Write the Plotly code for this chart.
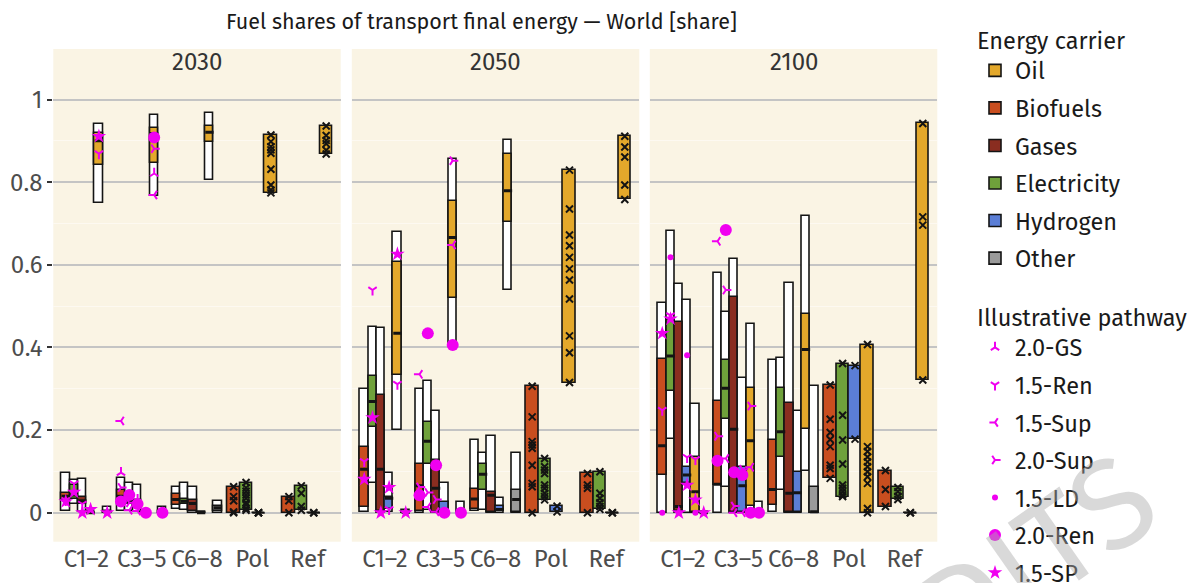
import plotly.graph_objects as go

# ---------------- data ----------------
YEARS = ["2030", "2050", "2100"]
GROUPS = ["C1–2", "C3–5", "C6–8", "Pol", "Ref"]
CARRIERS = ["Biofuels", "Electricity", "Gases", "Hydrogen", "Oil", "Other"]
POLREF_CARRIERS = ["Biofuels", "Electricity", "Hydrogen", "Oil"]
LEGEND_ORDER = ["Oil", "Biofuels", "Gases", "Electricity", "Hydrogen", "Other"]
PATHWAYS = ["2.0-GS", "1.5-Ren", "1.5-Sup", "2.0-Sup", "1.5-LD", "2.0-Ren", "1.5-SP"]
PATHWAY_GROUP = ["C3–5", "C1–2", "C3–5", "C3–5", "C1–2", "C3–5", "C1–2"]
Y_TICKS = [0, 0.2, 0.4, 0.6, 0.8, 1.0]
Y_TICK_LABELS = ["0", "0.2", "0.4", "0.6", "0.8", "1"]

# box statistics; rows = C1–2, C3–5, C6–8 ; columns follow CARRIERS
LO_2030 = [[0.004, 0.022, 0.002, 0.0, 0.750, 0.0],
           [0.003, 0.004, 0.002, 0.0, 0.766, 0.0],
           [0.008, 0.006, 0.000, 0.0, 0.806, 0.0]]
Q1_2030 = [[0.030, 0.032, 0.021, 0.0, 0.841, 0.0],
           [0.030, 0.020, 0.012, 0.0, 0.847, 0.0],
           [0.018, 0.020, 0.004, 0.0, 0.898, 0.004]]
MED_2030 = [[0.040, 0.043, 0.029, 0.0, 0.900, 0.002],
            [0.040, 0.027, 0.020, 0.0, 0.918, 0.002],
            [0.032, 0.028, 0.022, 0.0, 0.921, 0.012]]
Q3_2030 = [[0.047, 0.068, 0.037, 0.001, 0.920, 0.003],
           [0.055, 0.030, 0.030, 0.001, 0.931, 0.003],
           [0.045, 0.032, 0.031, 0.001, 0.936, 0.017]]
HI_2030 = [[0.095, 0.078, 0.082, 0.003, 0.940, 0.015],
           [0.085, 0.073, 0.066, 0.002, 0.962, 0.015],
           [0.061, 0.071, 0.061, 0.002, 0.968, 0.028]]

LO_2050 = [[0.002, 0.071, 0.000, 0.002, 0.200, 0.0],
           [0.000, 0.006, 0.000, 0.000, 0.406, 0.0],
           [0.003, 0.006, 0.000, 0.000, 0.540, 0.0]]
Q1_2050 = [[0.013, 0.208, 0.003, 0.010, 0.333, 0.0],
           [0.003, 0.119, 0.002, 0.000, 0.519, 0.0],
           [0.008, 0.055, 0.001, 0.003, 0.704, 0.002]]
MED_2050 = [[0.105, 0.269, 0.105, 0.035, 0.434, 0.001],
            [0.065, 0.173, 0.059, 0.003, 0.666, 0.001],
            [0.033, 0.093, 0.042, 0.008, 0.779, 0.032]]
Q3_2050 = [[0.160, 0.331, 0.285, 0.037, 0.607, 0.002],
           [0.119, 0.220, 0.127, 0.027, 0.755, 0.002],
           [0.058, 0.119, 0.050, 0.016, 0.868, 0.055]]
HI_2050 = [[0.299, 0.450, 0.446, 0.097, 0.680, 0.006],
           [0.299, 0.318, 0.247, 0.073, 0.857, 0.027],
           [0.177, 0.145, 0.185, 0.035, 0.903, 0.145]]

LO_2100 = [[0.000, 0.178, 0.000, 0.000, 0.000, 0.0],
           [0.000, 0.061, 0.000, 0.000, 0.002, 0.0],
           [0.002, 0.055, 0.000, 0.000, 0.101, 0.0]]
Q1_2100 = [[0.091, 0.295, 0.005, 0.071, 0.002, 0.0],
           [0.067, 0.226, 0.002, 0.002, 0.016, 0.0],
           [0.019, 0.135, 0.002, 0.002, 0.202, 0.0]]
MED_2100 = [[0.162, 0.379, 0.015, 0.091, 0.051, 0.0],
            [0.069, 0.301, 0.202, 0.065, 0.174, 0.001],
            [0.056, 0.196, 0.047, 0.048, 0.395, 0.002]]
Q3_2100 = [[0.373, 0.466, 0.462, 0.110, 0.135, 0.001],
           [0.271, 0.369, 0.521, 0.111, 0.303, 0.002],
           [0.177, 0.303, 0.266, 0.098, 0.482, 0.061]]
HI_2100 = [[0.508, 0.682, 0.553, 0.515, 0.263, 0.002],
           [0.581, 0.486, 0.613, 0.327, 0.456, 0.027],
           [0.369, 0.375, 0.555, 0.246, 0.718, 0.306]]

# individual scenarios, Pol / Ref ; keys follow POLREF_CARRIERS
POL_2030 = {"Biofuels": [0.063, 0.039, 0.029, 0.002, 0.0],
            "Electricity": [0.073, 0.060, 0.052, 0.043, 0.035, 0.024, 0.019, 0.010, 0.006],
            "Hydrogen": [0.0, 0.0, 0.0],
            "Oil": [0.914, 0.898, 0.886, 0.878, 0.870, 0.831, 0.793, 0.781, 0.774]}
REF_2030 = {"Biofuels": [0.039, 0.029, 0.0],
            "Electricity": [0.065, 0.047, 0.015, 0.006],
            "Hydrogen": [0.0, 0.0],
            "Oil": [0.936, 0.913, 0.901, 0.893, 0.877, 0.868]}
POL_2050 = {"Biofuels": [0.306, 0.232, 0.172, 0.164, 0.156, 0.115, 0.071, 0.063, 0.0],
            "Electricity": [0.131, 0.111, 0.103, 0.095, 0.067, 0.059, 0.047, 0.039, 0.031],
            "Hydrogen": [0.016, 0.002],
            "Oil": [0.829, 0.735, 0.672, 0.646, 0.618, 0.590, 0.563, 0.517, 0.428, 0.387, 0.315]}
REF_2050 = {"Biofuels": [0.095, 0.067, 0.059, 0.0],
            "Electricity": [0.099, 0.047, 0.035, 0.024, 0.015, 0.008],
            "Hydrogen": [0.0, 0.0],
            "Oil": [0.911, 0.885, 0.861, 0.793, 0.758]}
POL_2100 = {"Biofuels": [0.309, 0.226, 0.194, 0.177, 0.160, 0.115, 0.107, 0.083],
            "Electricity": [0.361, 0.236, 0.176, 0.118, 0.067, 0.059, 0.051, 0.043, 0.039],
            "Hydrogen": [0.356, 0.178],
            "Oil": [0.407, 0.160, 0.148, 0.135, 0.123, 0.111, 0.099, 0.087, 0.071, 0.010, 0.0]}
REF_2100 = {"Biofuels": [0.102, 0.056, 0.015],
            "Electricity": [0.061, 0.051, 0.040, 0.032],
            "Hydrogen": [0.0, 0.0],
            "Oil": [0.942, 0.716, 0.696, 0.321]}

# illustrative pathways; values follow CARRIERS (None = not shown)
IP_2030 = {"2.0-GS": [0.097, None, 0.032, None, 0.821, None],
           "1.5-Ren": [0.030, 0.070, 0.021, None, 0.869, None],
           "1.5-Sup": [0.222, 0.006, 0.004, None, 0.769, None],
           "2.0-Sup": [0.061, 0.024, None, None, 0.881, None],
           "1.5-LD": [None, None, None, None, None, None],
           "2.0-Ren": [0.027, 0.043, 0.021, 0.0, 0.908, 0.0],
           "1.5-SP": [0.027, 0.050, 0.0, 0.008, 0.911, 0.0]}
IP_2050 = {"2.0-GS": [None, None, None, None, None, None],
           "1.5-Ren": [0.124, 0.539, None, 0.008, 0.311, None],
           "1.5-Sup": [0.335, 0.014, 0.002, None, 0.648, None],
           "2.0-Sup": [0.062, 0.049, 0.032, None, 0.852, None],
           "1.5-LD": [None, None, None, None, None, None],
           "2.0-Ren": [0.042, 0.434, 0.115, 0.0, 0.406, 0.0],
           "1.5-SP": [0.081, 0.230, 0.0, 0.061, 0.626, 0.0]}
IP_2100 = {"2.0-GS": [None, None, None, None, None, None],
           "1.5-Ren": [0.248, 0.477, None, 0.134, 0.129, None],
           "1.5-Sup": [0.657, 0.131, 0.0, 0.0, 0.110, None],
           "2.0-Sup": [0.185, 0.539, 0.016, 0.105, 0.258, None],
           "1.5-LD": [0.0, 0.618, None, 0.381, 0.0, None],
           "2.0-Ren": [0.126, 0.684, 0.098, 0.091, 0.0, 0.0],
           "1.5-SP": [0.434, 0.469, 0.0, 0.067, 0.031, 0.0]}

BOX = {"2030": (LO_2030, Q1_2030, MED_2030, Q3_2030, HI_2030),
       "2050": (LO_2050, Q1_2050, MED_2050, Q3_2050, HI_2050),
       "2100": (LO_2100, Q1_2100, MED_2100, Q3_2100, HI_2100)}
POL = {"2030": POL_2030, "2050": POL_2050, "2100": POL_2100}
REF = {"2030": REF_2030, "2050": REF_2050, "2100": REF_2100}
IP = {"2030": IP_2030, "2050": IP_2050, "2100": IP_2100}

# ---------------- style ----------------
W, H = 1191, 583
FONT = "Fira Sans, Noto Sans, sans-serif"
COLORS = {"Oil": "#E3A82B", "Biofuels": "#C94E1F", "Gases": "#8A2D20",
          "Electricity": "#6FA13B", "Hydrogen": "#5B7ED6", "Other": "#9A9A9A"}
EDGE = "#141414"
MAG = "#F000F0"
PANEL_BG = "#FAF4E4"
IP_STYLE = {"2.0-GS": ("y-up", 7), "1.5-Ren": ("y-down", 7), "1.5-Sup": ("y-left", 7),
            "2.0-Sup": ("y-right", 7), "1.5-LD": ("circle", 6), "2.0-Ren": ("circle", 12),
            "1.5-SP": ("star", 11)}
DODGE6 = [-0.375, -0.225, -0.075, 0.075, 0.225, 0.375]
DODGE4 = [-0.3375, -0.1125, 0.1125, 0.3375]
BW6, BW4 = 0.15, 0.225

PANEL_X = [(53.3, 340.7), (351.8, 639.3), (649.8, 937.3)]
PANEL_TOP, PANEL_BOTTOM, STRIP_TOP = 80.0, 541.7, 49.0
ZERO_PX, ONE_PX = 512.7, 99.5
scale = ZERO_PX - ONE_PX
Y_RANGE = [-(PANEL_BOTTOM - ZERO_PX) / scale, (ZERO_PX - PANEL_TOP) / scale]

fig = go.Figure()
shown = set()

for yi, year in enumerate(YEARS):
    xa = "x" if yi == 0 else f"x{yi + 1}"
    ya = "y" if yi == 0 else f"y{yi + 1}"
    lo, q1, med, q3, hi = BOX[year]
    # outer (white) boxes
    xs, bs, hs = [], [], []
    for g in range(3):
        for c in range(6):
            xs.append(g + 1 + DODGE6[c])
            bs.append(lo[g][c])
            hs.append(hi[g][c] - lo[g][c])
    fig.add_trace(go.Bar(x=xs, y=hs, base=bs, width=BW6, xaxis=xa, yaxis=ya,
                         marker=dict(color="white", line=dict(color=EDGE, width=1.6)),
                         showlegend=False, hoverinfo="skip"))
    # coloured boxes per carrier (+ Pol / Ref ranges)
    for c, name in enumerate(CARRIERS):
        xs = [g + 1 + DODGE6[c] for g in range(3)]
        bs = [q1[g][c] for g in range(3)]
        hs = [q3[g][c] - q1[g][c] for g in range(3)]
        if name in POLREF_CARRIERS:
            k = POLREF_CARRIERS.index(name)
            for gpos, src in ((4, POL[year]), (5, REF[year])):
                vals = src[name]
                xs.append(gpos + DODGE4[k])
                bs.append(min(vals))
                hs.append(max(vals) - min(vals))
        widths = [BW6] * 3 + [BW4] * (len(xs) - 3)
        fig.add_trace(go.Bar(x=xs, y=hs, base=bs, width=widths, xaxis=xa, yaxis=ya,
                             name=name, legendgroup=name, legend="legend",
                             legendrank=LEGEND_ORDER.index(name) + 1,
                             showlegend=(yi == 0),
                             marker=dict(color=COLORS[name], line=dict(color=EDGE, width=1.6)),
                             hoverinfo="skip"))
    # medians (and flat Pol/Ref ranges)
    mx, my = [], []
    for g in range(3):
        for c in range(6):
            x0 = g + 1 + DODGE6[c]
            mx += [x0 - BW6 / 2, x0 + BW6 / 2, None]
            my += [med[g][c], med[g][c], None]
    fig.add_trace(go.Scatter(x=mx, y=my, mode="lines", xaxis=xa, yaxis=ya,
                             line=dict(color=EDGE, width=3), showlegend=False, hoverinfo="skip"))
    fx, fy = [], []
    for gpos, src in ((4, POL[year]), (5, REF[year])):
        for k, name in enumerate(POLREF_CARRIERS):
            vals = src[name]
            if max(vals) == min(vals):
                x0 = gpos + DODGE4[k]
                fx += [x0 - BW4 / 2, x0 + BW4 / 2, None]
                fy += [vals[0], vals[0], None]
    if fx:
        fig.add_trace(go.Scatter(x=fx, y=fy, mode="lines", xaxis=xa, yaxis=ya,
                                 line=dict(color=EDGE, width=2), showlegend=False,
                                 hoverinfo="skip"))
    # individual Pol/Ref scenarios
    px_, py_ = [], []
    for gpos, src in ((4, POL[year]), (5, REF[year])):
        for k, name in enumerate(POLREF_CARRIERS):
            for v in src[name]:
                px_.append(gpos + DODGE4[k])
                py_.append(v)
    fig.add_trace(go.Scatter(x=px_, y=py_, mode="markers", xaxis=xa, yaxis=ya,
                             marker=dict(symbol="x-thin", size=7, color=EDGE,
                                         line=dict(color=EDGE, width=2)),
                             showlegend=False, hoverinfo="skip"))
    # illustrative pathways
    for p, pname in enumerate(PATHWAYS):
        vals = IP[year][pname]
        gpos = GROUPS.index(PATHWAY_GROUP[p]) + 1
        xs = [gpos + DODGE6[c] for c in range(6) if vals[c] is not None]
        ys = [vals[c] for c in range(6) if vals[c] is not None]
        sym, size = IP_STYLE[pname]
        first = pname not in shown
        shown.add(pname)
        fig.add_trace(go.Scatter(x=xs if xs else [None], y=ys if ys else [None],
                                 mode="markers", xaxis=xa, yaxis=ya,
                                 name=pname, legendgroup=pname, legend="legend2",
                                 legendrank=p + 1, showlegend=first,
                                 marker=dict(symbol=sym, size=size, color=MAG,
                                             line=dict(color=MAG, width=2 if sym.startswith("y") else 0)),
                                 hoverinfo="skip"))

layout = dict(
    width=W, height=H, margin=dict(l=0, r=0, t=0, b=0, autoexpand=False),
    paper_bgcolor="white", plot_bgcolor=PANEL_BG,
    barmode="overlay", bargap=0,
    font=dict(family=FONT, color="#1A1A1A"),
    shapes=[], annotations=[],
)
ydom = [1 - PANEL_BOTTOM / H, 1 - PANEL_TOP / H]
for i, (x0, x1) in enumerate(PANEL_X):
    sfx = "" if i == 0 else str(i + 1)
    layout["xaxis" + sfx] = dict(
        domain=[x0 / W, x1 / W], range=[0.4, 5.6], tickmode="array",
        tickvals=[1, 2, 3, 4, 5], ticktext=GROUPS, showgrid=False, zeroline=False,
        ticks="", tickfont=dict(size=24, color="#4D4D4D"), anchor="y" + sfx,
        fixedrange=True, automargin=False)
    ydict = dict(
        domain=ydom, range=Y_RANGE, tickmode="array", tickvals=Y_TICKS,
        ticktext=Y_TICK_LABELS, showgrid=True, gridcolor="#C4C4C4", gridwidth=2,
        zeroline=False, anchor="x" + sfx, automargin=False,
        minor=dict(dtick=0.1, tick0=0, showgrid=True, gridcolor="#FDF9F1", gridwidth=1),
        fixedrange=True)
    if i == 0:
        ydict.update(ticks="outside", ticklen=5, tickwidth=1.5, tickcolor="#333333",
                     tickfont=dict(size=24, color="#4D4D4D"), showticklabels=True)
    else:
        ydict.update(matches="y", showticklabels=False, ticks="")
    layout["yaxis" + sfx] = ydict
    layout["shapes"].append(dict(type="rect", xref="paper", yref="paper",
                                 x0=x0 / W, x1=x1 / W, y0=1 - PANEL_TOP / H - 0.001,
                                 y1=1 - STRIP_TOP / H, fillcolor=PANEL_BG,
                                 line=dict(width=0), layer="below"))
    layout["annotations"].append(dict(text=YEARS[i], xref="paper", yref="paper",
                                      x=(x0 + x1) / 2 / W, y=1 - 62 / H,
                                      showarrow=False, font=dict(size=24, color="#333333"),
                                      xanchor="center", yanchor="middle"))

layout["annotations"].append(dict(
    text="Fuel shares of transport final energy — World [share]",
    xref="paper", yref="paper", x=481 / W, y=1 - 22 / H, showarrow=False,
    font=dict(size=21.5, color="#1A1A1A"), xanchor="center", yanchor="middle"))

# faint diagonal watermark (only its tail is visible in the frame)
layout["annotations"].append(dict(
    text="FINAL EDITS", xref="paper", yref="paper", x=862 / W, y=1 - 680 / H,
    showarrow=False, textangle=-35, font=dict(size=128, color="rgba(170,170,170,0.45)"),
    xanchor="center", yanchor="middle"))

layout["legend"] = dict(
    title=dict(text="Energy carrier", font=dict(size=23.5)),
    x=975 / W, xanchor="left", y=1 - 18 / H, yanchor="top",
    font=dict(size=23.5, color="#1A1A1A"), bgcolor="rgba(0,0,0,0)",
    traceorder="grouped", tracegroupgap=4)
layout["legend2"] = dict(
    title=dict(text="Illustrative pathway", font=dict(size=23.5)),
    x=975 / W, xanchor="left", y=1 - 295 / H, yanchor="top",
    font=dict(size=23.5, color="#1A1A1A"), bgcolor="rgba(0,0,0,0)",
    traceorder="grouped", tracegroupgap=4)

fig.update_layout(**layout)
fig.write_html("out.html", config={"displayModeBar": False},
               post_script="document.body.style.margin='0px';")
